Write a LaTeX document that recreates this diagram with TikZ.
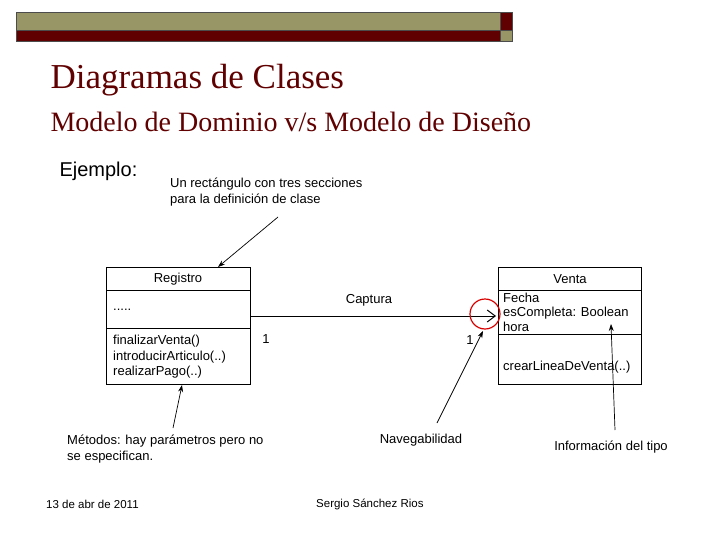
\documentclass[tikz,border=0pt]{standalone}
\usepackage{fontspec}
\setmainfont{Liberation Sans}
\newfontfamily\titlefont{Liberation Serif}
\usetikzlibrary{arrows.meta}
\definecolor{olive}{RGB}{152,150,102}
\definecolor{darkred}{RGB}{96,0,0}
\tikzset{
  lbl/.style={anchor=west, inner sep=0pt, font=\fontsize{13}{15.5}\selectfont, align=left},
  box/.style={draw, line width=0.8pt},
  note/.style={-{Stealth[length=7pt,width=5pt]}, line width=0.7pt},
}
\begin{document}
\begin{tikzpicture}[x=1pt, y=-1pt]
    \useasboundingbox (0,0) rectangle (728,546);

    % Bar
    \fill[olive, draw=black!70] (16,12) rectangle (500,30);
    \fill[darkred, draw=black!70] (16,30) rectangle (500,41);
    \fill[darkred, draw=black!70] (500,12) rectangle (512,30);
    \fill[olive, draw=black!70] (500,30) rectangle (512,41);

    % Title
    \node[anchor=west, text=darkred, font=\titlefont\fontsize{35}{38}\selectfont] (t1) at (47,80) {Diagramas de Clases};
    \node[anchor=west, text=darkred, font=\titlefont\fontsize{28}{30}\selectfont] (t2) at (47,122) {Modelo de Dominio v/s Modelo de Diseño};
    \node[anchor=west, font=\fontsize{20}{22}\selectfont] (ej) at (56,171) {Ejemplo:};

    % Registro
    \draw[box] (106,267) rectangle (250,384);
    \draw[box] (106,290) -- (250,290);
    \draw[box] (106,328) -- (250,328);
    \node[lbl, anchor=center] (reg) at (178,279) {Registro};
    \node[lbl] (regat) at (113,310) {.....};
    \node[lbl] (regme) at (113,357) {finalizarVenta()\\introducirArticulo(..)\\realizarPago(..)};

    % Venta
    \draw[box] (498,267) rectangle (641,384);
    \draw[box] (498,290) -- (641,290);
    \draw[box] (498,334) -- (641,334);
    \node[lbl, anchor=center] (ven) at (570,279) {Venta};
    \node[lbl, font=\fontsize{13}{14.5}\selectfont] (venat) at (503,312) {Fecha\\esCompleta: Boolean\\hora};
    \node[lbl] (venme) at (503,367) {crearLineaDeVenta(..)};

    % Association
    \coordinate (as) at (250,316);
    \coordinate (ae) at (496,316);
    \draw[-{Straight Barb[length=8pt,width=12pt]}, line width=1pt] (as) -- (ae);
    \draw[red!85!black, line width=1.2pt] (485,314) circle (15);
    \node[lbl, anchor=center] (cap) at (369,300) {Captura};
    \node[lbl, anchor=center] (m1) at (266,339) {1};
    \node[lbl, anchor=center] (m2) at (470,340) {1};

    % Notes
    \node[lbl] (n1) at (170,192) {Un rectángulo con tres secciones\\para la definición de clase};
    \node[lbl] (n2) at (67,449) {Métodos: hay parámetros pero no\\se especifican.};
    \node[lbl, anchor=center] (n3) at (421,440) {Navegabilidad};
    \node[lbl, anchor=center] (n4) at (611,447) {Información del tipo};
    \coordinate (p1) at (278,217);
    \coordinate (q1) at (218,267);
    \coordinate (p2) at (173,428);
    \coordinate (q2) at (182,385);
    \coordinate (p3) at (437,423);
    \coordinate (q3) at (483,331);
    \coordinate (p4) at (615,430);
    \coordinate (q4) at (611,324);
    \draw[note] (p1) -- (q1);
    \draw[note] (p2) -- (q2);
    \draw[note] (p3) -- (q3);
    \draw[note] (p4) -- (q4);

    % Footer
    \node[lbl, font=\fontsize{11.5}{13}\selectfont] (f1) at (46,504) {13 de abr de 2011};
    \node[lbl, font=\fontsize{11.5}{13}\selectfont] (f2) at (316,504) {Sergio Sánchez Rios};
\end{tikzpicture}
\end{document}
